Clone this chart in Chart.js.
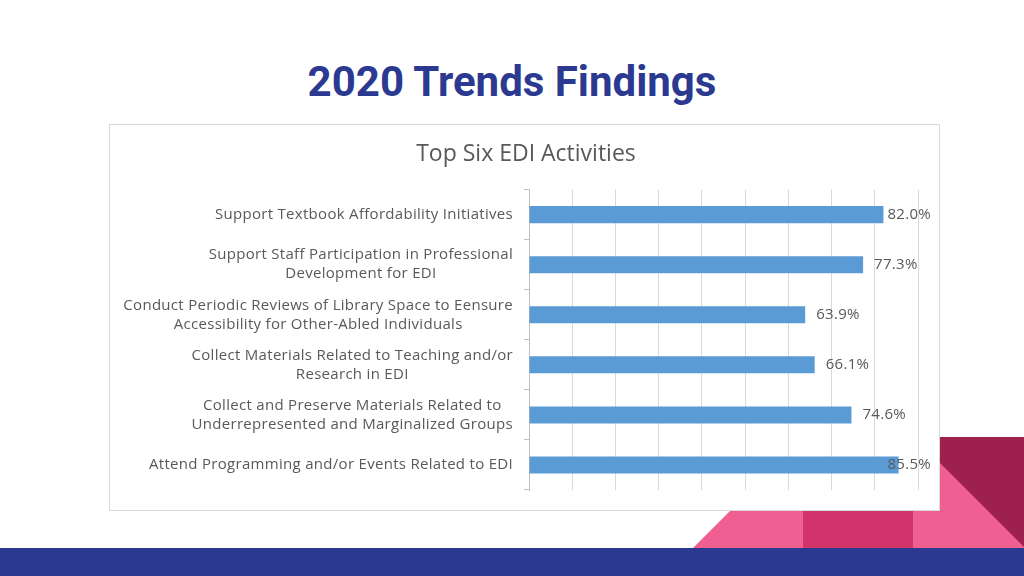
<!DOCTYPE html>
<html>
<head>
<meta charset="utf-8">
<script src="https://cdn.jsdelivr.net/npm/chart.js@4"></script>
<style>
  html, body { margin: 0; padding: 0; background: #fff; }
  body { width: 1024px; height: 576px; position: relative; overflow: hidden; }
  #deco { position: absolute; left: 0; top: 0; }
  #heading {
    position: absolute; left: 0; top: 57px; width: 1024px; text-align: center;
    font-family: Roboto, sans-serif; font-weight: 700; font-size: 42px;
    color: #2b3990;
  }
  #box {
    position: absolute; left: 109px; top: 124px; width: 829px; height: 385px;
    background: #fff; border: 1px solid #d9d9d9;
  }
  #box canvas { position: absolute; left: 0; top: 0; }
</style>
</head>
<body>
<svg id="deco" width="1024" height="576">
  <polygon points="913,437 1024,437 1024,548" fill="#9e214d"/>
  <polygon points="913,436 1024,547 1024,548 913,548" fill="#ef5f92"/>
  <rect x="803" y="437" width="110" height="111" fill="#d1336a"/>
  <polygon points="693,548 803,438 803,548" fill="#ef5f92"/>
  <rect x="0" y="548" width="1024" height="28" fill="#2b3990"/>
</svg>
<div id="heading">2020 Trends Findings</div>
<div id="box"><canvas id="chart" width="829" height="385"></canvas></div>
<script>
// chart data
const categories = [
  ['Support Textbook Affordability Initiatives'],
  ['Support Staff Participation in Professional', 'Development for EDI'],
  ['Conduct Periodic Reviews of Library Space to Eensure', 'Accessibility for Other-Abled Individuals'],
  ['Collect Materials Related to Teaching and/or', 'Research in EDI'],
  ['Collect and Preserve Materials Related to', 'Underrepresented and Marginalized Groups'],
  ['Attend Programming and/or Events Related to EDI']
];
const values = [82.0, 77.3, 63.9, 66.1, 74.6, 85.5];
const xMin = 0;
const xMax = 90;
const xStep = 10;

const textColor = '#595959';
const labelFont = '15px "Open Sans"';
const labelSpacing = '0.3px';

// category labels: lines centred on each other, block right-aligned to the axis
const categoryLabels = {
  id: 'categoryLabels',
  afterDraw(chart) {
    const ctx = chart.ctx;
    const y = chart.scales.y;
    const right = chart.chartArea.left - 16;
    ctx.save();
    ctx.font = labelFont;
    ctx.letterSpacing = labelSpacing;
    ctx.fillStyle = textColor;
    ctx.textAlign = 'center';
    ctx.textBaseline = 'middle';
    categories.forEach((lines, i) => {
      const w = Math.max(...lines.map(l => ctx.measureText(l).width));
      const cy = y.getPixelForValue(i);
      const lh = 19;
      lines.forEach((l, j) => {
        ctx.fillText(l, right - w / 2, cy + (j - (lines.length - 1) / 2) * lh);
      });
    });
    ctx.restore();
  }
};

// value labels at the bar ends, kept from running past the frame
const valueLabels = {
  id: 'valueLabels',
  afterDatasetsDraw(chart) {
    const ctx = chart.ctx;
    const meta = chart.getDatasetMeta(0);
    const limit = chart.chartArea.right + 13;
    ctx.save();
    ctx.font = labelFont;
    ctx.letterSpacing = labelSpacing;
    ctx.fillStyle = textColor;
    ctx.textAlign = 'left';
    ctx.textBaseline = 'middle';
    meta.data.forEach((bar, i) => {
      const txt = values[i].toFixed(1) + '%';
      const w = ctx.measureText(txt).width;
      let x = bar.x + 11;
      if (x + w > limit) x = limit - w;
      ctx.fillText(txt, x, bar.y);
    });
    ctx.restore();
  }
};

new Chart(document.getElementById('chart').getContext('2d'), {
  type: 'bar',
  data: {
    labels: categories,
    datasets: [{
      data: values,
      backgroundColor: '#5b9bd5',
      borderWidth: 0,
      barPercentage: 0.34,
      categoryPercentage: 1
    }]
  },
  options: {
    indexAxis: 'y',
    responsive: false,
    animation: false,
    layout: { padding: { top: 0, right: 21, bottom: 20, left: 24 } },
    plugins: {
      legend: { display: false },
      tooltip: { enabled: false },
      title: {
        display: true,
        text: 'Top Six EDI Activities',
        color: textColor,
        font: { family: '"Open Sans"', size: 23, weight: 'normal' },
        padding: { top: 16, bottom: 21 }
      }
    },
    scales: {
      x: {
        min: xMin,
        max: xMax,
        ticks: { display: false, stepSize: xStep },
        grid: { color: '#d9d9d9', drawTicks: false },
        border: { display: false },
        afterFit: s => { s.height = 0; }
      },
      y: {
        ticks: { color: 'rgba(0,0,0,0)', padding: 11, font: { family: '"Open Sans"', size: 13 } },
        grid: { drawOnChartArea: false, drawTicks: true, tickLength: 5, color: '#bfbfbf' },
        border: { display: true, color: '#bfbfbf' },
        afterFit: s => { s.width = 395; }
      }
    }
  },
  plugins: [categoryLabels, valueLabels]
});
</script>
</body>
</html>
